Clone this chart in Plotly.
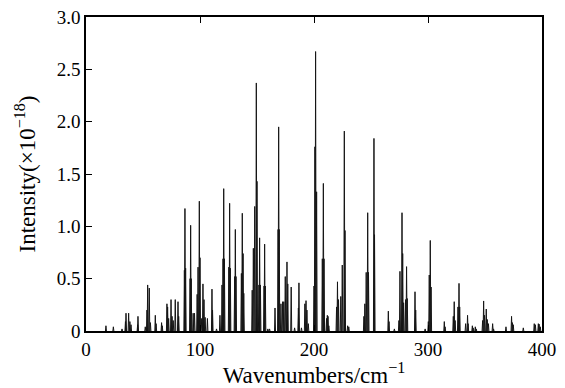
import plotly.graph_objects as go

# Peak positions (cm^-1) and intensities (x10^-18)
wavenumbers = [
    17.5, 24, 31.6, 34.6, 35.1, 37.4, 38.5, 39.5, 45.3, 45.6,
    52, 53.5, 54.1, 55.5, 56.5, 60.8, 61.5, 66.3, 66.9,
    71, 71.6, 72.5, 74.6, 75.5, 76.5, 78.3, 80.7, 81.3,
    86.3, 86.8, 87.4, 91.3, 91.8, 92.3, 94, 95.2, 97.5,
    98.3, 99.4, 100, 101.5, 102.6, 103.5, 104.5, 106.5, 110.5, 111,
    114.5, 117.5, 119.3, 120.2, 120.8, 121.4, 125.3, 126, 126.6,
    130.4, 131, 131.6, 136.3, 137.1, 137.8, 138.4,
    145.8, 146.8, 148, 149.4, 150, 151.7, 152.3, 153, 156.2, 156.7, 157.3,
    159.5, 161, 165.8, 168.5, 169, 169.5, 171, 172.5, 173.5, 174.8, 176.3, 177,
    180, 183, 186.3, 186.8, 189, 192, 193, 193.8, 195,
    200, 200.8, 201.4, 202.3,
    207.3, 208.2, 208.8, 211, 211.7, 212.3, 213,
    219.8, 220.6, 221.5, 223.5, 224.8, 226.6, 227.2, 229.5, 230.5,
    243.8, 244.6, 245.8, 247.1, 247.8, 252.6, 253.1,
    265.2, 265.8, 270.5, 274.5, 275.4, 277.2, 277.8, 278.6, 280.3, 281.2, 281.8,
    288.6, 289.2, 297.5, 300.3, 301.1, 302, 302.7,
    314.3, 315, 322.2, 323, 323.8, 326.3, 327.2, 327.8,
    333, 334.7, 335.2, 338.9, 339.6, 341.5, 342.3,
    347.9, 348.8, 349.6, 351.1, 352, 353, 356.7, 357.5,
    368.4, 373.3, 374, 374.8, 383.6, 393.2, 394.2, 396.8, 397.5, 398.5,
]
intensities = [
    0.05, 0.04, 0.02, 0.09, 0.17, 0.17, 0.09, 0.06, 0.06, 0.14,
    0.04, 0.20, 0.44, 0.41, 0.08, 0.15, 0.07, 0.08, 0.05,
    0.26, 0.23, 0.12, 0.30, 0.14, 0.10, 0.30, 0.28, 0.14,
    0.58, 1.17, 0.60, 0.50, 1.01, 0.50, 0.17, 0.17, 0.35,
    0.61, 1.24, 0.70, 0.12, 0.45, 0.30, 0.13, 0.12, 0.40, 0.20,
    0.02, 0.15, 0.44, 0.69, 1.36, 0.69, 0.61, 1.22, 0.60,
    0.52, 0.97, 0.52, 0.55, 1.125, 0.74, 0.36,
    0.39, 0.79, 1.19, 2.37, 1.43, 0.44, 0.89, 0.44, 0.43, 0.83, 0.43,
    0.02, 0.02, 0.22, 0.97, 1.95, 0.97, 0.26, 0.28, 0.28, 0.52, 0.66, 0.45,
    0.42, 0.03, 0.22, 0.46, 0.03, 0.26, 0.29, 0.20, 0.07,
    0.43, 1.76, 2.67, 1.33,
    0.69, 1.41, 0.69, 0.12, 0.15, 0.14, 0.05,
    0.23, 0.47, 0.30, 0.33, 0.63, 1.91, 0.96, 0.05, 0.04,
    0.14, 0.26, 0.56, 1.13, 0.56, 1.84, 0.92,
    0.19, 0.09, 0.02, 0.10, 0.57, 1.13, 0.74, 0.27, 0.30, 0.615, 0.31,
    0.375, 0.20, 0.02, 0.09, 0.535, 0.865, 0.42,
    0.09, 0.04, 0.14, 0.28, 0.10, 0.23, 0.455, 0.23,
    0.07, 0.15, 0.07, 0.05, 0.03, 0.04, 0.02,
    0.10, 0.287, 0.15, 0.21, 0.11, 0.07, 0.07, 0.02,
    0.04, 0.14, 0.08, 0.06, 0.03, 0.07, 0.06, 0.07, 0.065, 0.04,
]

x_ticks = [0, 100, 200, 300, 400]
y_ticks = [0, 0.5, 1.0, 1.5, 2.0, 2.5, 3.0]
y_tick_text = ["0", "0.5", "1.0", "1.5", "2.0", "2.5", "3.0"]

HALF_WIDTH = 0.45  # drawing half-width of each narrow line profile
xs, ys = [], []
for p, h in zip(wavenumbers, intensities):
    xs += [p - HALF_WIDTH, p, p + HALF_WIDTH, None]
    ys += [0, h, 0, None]

FONT = "Liberation Serif, Times New Roman, serif"

fig = go.Figure()
fig.add_trace(go.Scatter(x=xs, y=ys, mode="lines",
                         line=dict(color="#151515", width=1),
                         connectgaps=False, hoverinfo="skip", showlegend=False))

fig.update_layout(
    width=565, height=388,
    margin=dict(l=86, r=23, t=17, b=57),
    paper_bgcolor="white", plot_bgcolor="white",
    font=dict(family=FONT, size=19, color="black"),
    showlegend=False,
)
fig.update_xaxes(
    range=[0, 400], tickvals=x_ticks, ticks="inside", ticklen=6, tickwidth=1.2,
    tickcolor="black", showline=True, linecolor="black", linewidth=1.5,
    mirror="ticks", showgrid=False, zeroline=False, automargin=False,
    title=dict(text="Wavenumbers/cm<sup>−1</sup>"),
)
fig.update_yaxes(
    range=[0, 3.0], tickvals=y_ticks, ticktext=y_tick_text, ticks="inside",
    ticklen=6, tickwidth=1.2, tickcolor="black", showline=True,
    linecolor="black", linewidth=1.5, mirror=True, showgrid=False,
    zeroline=False, automargin=False,
    title=dict(text="Intensity(×10<sup>−18</sup>)"),
)

fig.write_html("out.html")
